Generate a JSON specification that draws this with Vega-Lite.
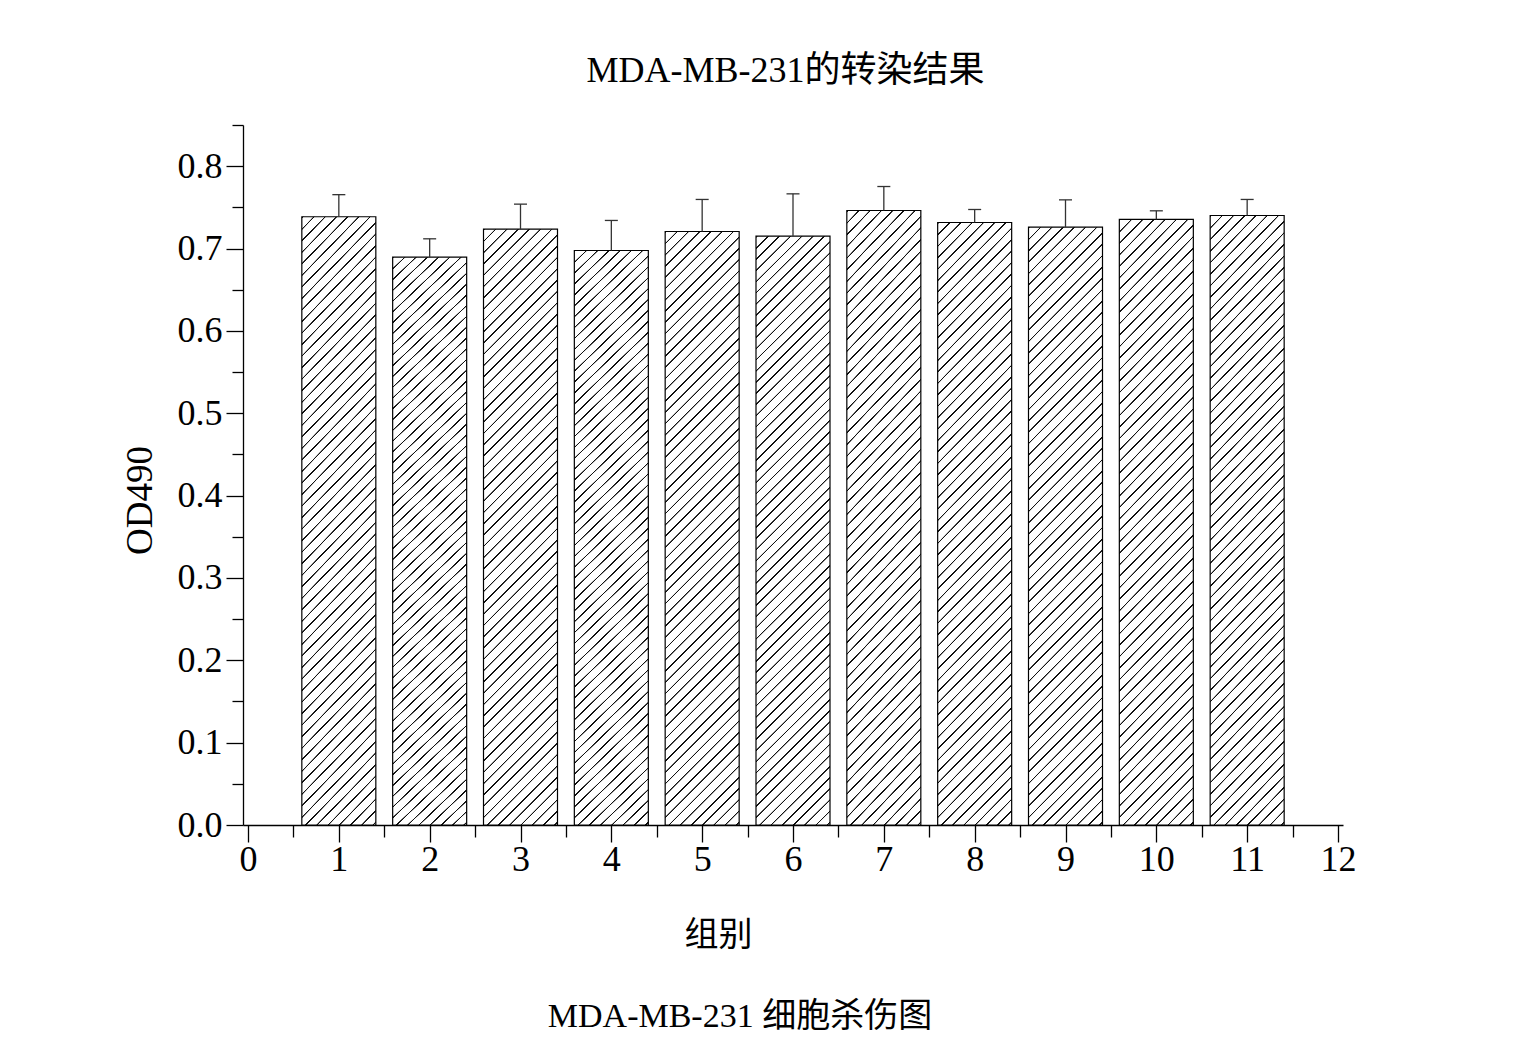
{
 "$schema": "https://vega.github.io/schema/vega-lite/v6.json",
 "background": "white",
 "padding": {"left": 121, "top": 53, "right": 10, "bottom": 10},
 "config": {"view": {"stroke": null}, "font": "Liberation Serif", "concat": {"spacing": 0}},
 "title": {"text": "MDA-MB-231的转染结果", "fontSize": 36, "font": "Liberation Serif, Noto Sans CJK SC", "fontWeight": "normal", "anchor": "middle", "offset": 17, "dx": 47, "color": "#000"},
 "data": {"values": [
  {"group": 1, "od": 0.7386, "upper": 0.7654},
  {"group": 2, "od": 0.6895, "upper": 0.7118},
  {"group": 3, "od": 0.7235, "upper": 0.7539},
  {"group": 4, "od": 0.6976, "upper": 0.7341},
  {"group": 5, "od": 0.7207, "upper": 0.7596},
  {"group": 6, "od": 0.7150, "upper": 0.7664},
  {"group": 7, "od": 0.7462, "upper": 0.7753},
  {"group": 8, "od": 0.7316, "upper": 0.7474},
  {"group": 9, "od": 0.7259, "upper": 0.7591},
  {"group": 10, "od": 0.7353, "upper": 0.7458},
  {"group": 11, "od": 0.7401, "upper": 0.7596}
 ]},
 "vconcat": [{
  "width": 1100,
  "height": 700,
  "title": {"text": "MDA-MB-231 细胞杀伤图", "orient": "bottom", "fontSize": 34, "font": "Liberation Serif, Noto Sans CJK SC", "fontWeight": "normal", "anchor": "middle", "offset": 48, "dx": -53, "color": "#000"},
  "encoding": {
   "x": {"field": "group", "type": "quantitative", "scale": {"domain": [0, 12], "nice": false, "zero": false},
    "axis": {"values": [0,0.5,1,1.5,2,2.5,3,3.5,4,4.5,5,5.5,6,6.5,7,7.5,8,8.5,9,9.5,10,10.5,11,11.5,12],
     "labelExpr": "datum.value % 1 === 0 ? format(datum.value, 'd') : ''",
     "tickSize": {"condition": {"test": "datum.value % 1 === 0", "value": 17}, "value": 12},
     "labelFontSize": 36, "labelFont": "Liberation Serif", "labelColor": "#000", "labelPadding": 0,
     "labelFlush": false, "labelOverlap": false, "labelBound": false,
     "domainColor": "#000", "tickColor": "#000", "domainWidth": 1.3, "tickWidth": 1.3, "grid": false,
     "title": "组别", "titleFontSize": 34, "titleFont": "Liberation Serif, Noto Sans CJK SC", "titleFontWeight": "normal",
     "titleX": 475, "titleY": 110, "titleBaseline": "middle", "titleAlign": "center", "titleColor": "#000"}},
   "y": {"field": "od", "type": "quantitative", "scale": {"domain": [0, 0.85], "nice": false, "zero": true},
      "axis": {"values": [0,0.05,0.1,0.15,0.2,0.25,0.3,0.35,0.4,0.45,0.5,0.55,0.6,0.65,0.7,0.75,0.8,0.85],
       "labelExpr": "abs(datum.value*10 - round(datum.value*10)) < 0.001 ? format(datum.value, '.1f') : ''",
       "tickSize": {"condition": {"test": "abs(datum.value*10 - round(datum.value*10)) < 0.001", "value": 17}, "value": 11},
       "labelFontSize": 36, "labelFont": "Liberation Serif", "labelColor": "#000", "labelPadding": 4,
       "labelFlush": false, "labelOverlap": false, "labelBound": false,
       "domainColor": "#000", "tickColor": "#000", "domainWidth": 1.3, "tickWidth": 1.3, "grid": false,
       "title": "OD490", "titleFontSize": 37, "titleFont": "Liberation Serif", "titleFontWeight": "normal",
       "titleX": -103, "titleY": 375, "titleBaseline": "middle", "titleAlign": "center", "titleAngle": -90, "titleColor": "#000"}}
  },
  "layer": [
   {
    "mark": {"type": "bar", "size": 74, "stroke": "#000", "strokeWidth": 1.2,
     "fill": {"gradient": "linear", "x1": 0, "y1": 0, "x2": 0.14, "y2": 1.12, "stops": [
      {"offset":0,"color":"#fff"},{"offset":0.0006,"color":"#111"},{"offset":0.0024,"color":"#111"},{"offset":0.003,"color":"#fff"},
      {"offset":0.0167,"color":"#fff"},{"offset":0.0173,"color":"#111"},{"offset":0.0191,"color":"#111"},{"offset":0.0197,"color":"#fff"},
      {"offset":0.0333,"color":"#fff"},{"offset":0.0339,"color":"#111"},{"offset":0.0357,"color":"#111"},{"offset":0.0363,"color":"#fff"},
      {"offset":0.05,"color":"#fff"},{"offset":0.0506,"color":"#111"},{"offset":0.0524,"color":"#111"},{"offset":0.053,"color":"#fff"},
      {"offset":0.0667,"color":"#fff"},{"offset":0.0673,"color":"#111"},{"offset":0.0691,"color":"#111"},{"offset":0.0697,"color":"#fff"},
      {"offset":0.0833,"color":"#fff"},{"offset":0.0839,"color":"#111"},{"offset":0.0857,"color":"#111"},{"offset":0.0863,"color":"#fff"},
      {"offset":0.1,"color":"#fff"},{"offset":0.1006,"color":"#111"},{"offset":0.1024,"color":"#111"},{"offset":0.103,"color":"#fff"},
      {"offset":0.1167,"color":"#fff"},{"offset":0.1173,"color":"#111"},{"offset":0.1191,"color":"#111"},{"offset":0.1197,"color":"#fff"},
      {"offset":0.1333,"color":"#fff"},{"offset":0.1339,"color":"#111"},{"offset":0.1357,"color":"#111"},{"offset":0.1363,"color":"#fff"},
      {"offset":0.15,"color":"#fff"},{"offset":0.1506,"color":"#111"},{"offset":0.1524,"color":"#111"},{"offset":0.153,"color":"#fff"},
      {"offset":0.1667,"color":"#fff"},{"offset":0.1673,"color":"#111"},{"offset":0.1691,"color":"#111"},{"offset":0.1697,"color":"#fff"},
      {"offset":0.1833,"color":"#fff"},{"offset":0.1839,"color":"#111"},{"offset":0.1857,"color":"#111"},{"offset":0.1863,"color":"#fff"},
      {"offset":0.2,"color":"#fff"},{"offset":0.2006,"color":"#111"},{"offset":0.2024,"color":"#111"},{"offset":0.203,"color":"#fff"},
      {"offset":0.2167,"color":"#fff"},{"offset":0.2173,"color":"#111"},{"offset":0.2191,"color":"#111"},{"offset":0.2197,"color":"#fff"},
      {"offset":0.2333,"color":"#fff"},{"offset":0.2339,"color":"#111"},{"offset":0.2357,"color":"#111"},{"offset":0.2363,"color":"#fff"},
      {"offset":0.25,"color":"#fff"},{"offset":0.2506,"color":"#111"},{"offset":0.2524,"color":"#111"},{"offset":0.253,"color":"#fff"},
      {"offset":0.2667,"color":"#fff"},{"offset":0.2673,"color":"#111"},{"offset":0.2691,"color":"#111"},{"offset":0.2697,"color":"#fff"},
      {"offset":0.2833,"color":"#fff"},{"offset":0.2839,"color":"#111"},{"offset":0.2857,"color":"#111"},{"offset":0.2863,"color":"#fff"},
      {"offset":0.3,"color":"#fff"},{"offset":0.3006,"color":"#111"},{"offset":0.3024,"color":"#111"},{"offset":0.303,"color":"#fff"},
      {"offset":0.3167,"color":"#fff"},{"offset":0.3173,"color":"#111"},{"offset":0.3191,"color":"#111"},{"offset":0.3197,"color":"#fff"},
      {"offset":0.3333,"color":"#fff"},{"offset":0.3339,"color":"#111"},{"offset":0.3357,"color":"#111"},{"offset":0.3363,"color":"#fff"},
      {"offset":0.35,"color":"#fff"},{"offset":0.3506,"color":"#111"},{"offset":0.3524,"color":"#111"},{"offset":0.353,"color":"#fff"},
      {"offset":0.3667,"color":"#fff"},{"offset":0.3673,"color":"#111"},{"offset":0.3691,"color":"#111"},{"offset":0.3697,"color":"#fff"},
      {"offset":0.3833,"color":"#fff"},{"offset":0.3839,"color":"#111"},{"offset":0.3857,"color":"#111"},{"offset":0.3863,"color":"#fff"},
      {"offset":0.4,"color":"#fff"},{"offset":0.4006,"color":"#111"},{"offset":0.4024,"color":"#111"},{"offset":0.403,"color":"#fff"},
      {"offset":0.4167,"color":"#fff"},{"offset":0.4173,"color":"#111"},{"offset":0.4191,"color":"#111"},{"offset":0.4197,"color":"#fff"},
      {"offset":0.4333,"color":"#fff"},{"offset":0.4339,"color":"#111"},{"offset":0.4357,"color":"#111"},{"offset":0.4363,"color":"#fff"},
      {"offset":0.45,"color":"#fff"},{"offset":0.4506,"color":"#111"},{"offset":0.4524,"color":"#111"},{"offset":0.453,"color":"#fff"},
      {"offset":0.4667,"color":"#fff"},{"offset":0.4673,"color":"#111"},{"offset":0.4691,"color":"#111"},{"offset":0.4697,"color":"#fff"},
      {"offset":0.4833,"color":"#fff"},{"offset":0.4839,"color":"#111"},{"offset":0.4857,"color":"#111"},{"offset":0.4863,"color":"#fff"},
      {"offset":0.5,"color":"#fff"},{"offset":0.5006,"color":"#111"},{"offset":0.5024,"color":"#111"},{"offset":0.503,"color":"#fff"},
      {"offset":0.5167,"color":"#fff"},{"offset":0.5173,"color":"#111"},{"offset":0.5191,"color":"#111"},{"offset":0.5197,"color":"#fff"},
      {"offset":0.5333,"color":"#fff"},{"offset":0.5339,"color":"#111"},{"offset":0.5357,"color":"#111"},{"offset":0.5363,"color":"#fff"},
      {"offset":0.55,"color":"#fff"},{"offset":0.5506,"color":"#111"},{"offset":0.5524,"color":"#111"},{"offset":0.553,"color":"#fff"},
      {"offset":0.5667,"color":"#fff"},{"offset":0.5673,"color":"#111"},{"offset":0.5691,"color":"#111"},{"offset":0.5697,"color":"#fff"},
      {"offset":0.5833,"color":"#fff"},{"offset":0.5839,"color":"#111"},{"offset":0.5857,"color":"#111"},{"offset":0.5863,"color":"#fff"},
      {"offset":0.6,"color":"#fff"},{"offset":0.6006,"color":"#111"},{"offset":0.6024,"color":"#111"},{"offset":0.603,"color":"#fff"},
      {"offset":0.6167,"color":"#fff"},{"offset":0.6173,"color":"#111"},{"offset":0.6191,"color":"#111"},{"offset":0.6197,"color":"#fff"},
      {"offset":0.6333,"color":"#fff"},{"offset":0.6339,"color":"#111"},{"offset":0.6357,"color":"#111"},{"offset":0.6363,"color":"#fff"},
      {"offset":0.65,"color":"#fff"},{"offset":0.6506,"color":"#111"},{"offset":0.6524,"color":"#111"},{"offset":0.653,"color":"#fff"},
      {"offset":0.6667,"color":"#fff"},{"offset":0.6673,"color":"#111"},{"offset":0.6691,"color":"#111"},{"offset":0.6697,"color":"#fff"},
      {"offset":0.6833,"color":"#fff"},{"offset":0.6839,"color":"#111"},{"offset":0.6857,"color":"#111"},{"offset":0.6863,"color":"#fff"},
      {"offset":0.7,"color":"#fff"},{"offset":0.7006,"color":"#111"},{"offset":0.7024,"color":"#111"},{"offset":0.703,"color":"#fff"},
      {"offset":0.7167,"color":"#fff"},{"offset":0.7173,"color":"#111"},{"offset":0.7191,"color":"#111"},{"offset":0.7197,"color":"#fff"},
      {"offset":0.7333,"color":"#fff"},{"offset":0.7339,"color":"#111"},{"offset":0.7357,"color":"#111"},{"offset":0.7363,"color":"#fff"},
      {"offset":0.75,"color":"#fff"},{"offset":0.7506,"color":"#111"},{"offset":0.7524,"color":"#111"},{"offset":0.753,"color":"#fff"},
      {"offset":0.7667,"color":"#fff"},{"offset":0.7673,"color":"#111"},{"offset":0.7691,"color":"#111"},{"offset":0.7697,"color":"#fff"},
      {"offset":0.7833,"color":"#fff"},{"offset":0.7839,"color":"#111"},{"offset":0.7857,"color":"#111"},{"offset":0.7863,"color":"#fff"},
      {"offset":0.8,"color":"#fff"},{"offset":0.8006,"color":"#111"},{"offset":0.8024,"color":"#111"},{"offset":0.803,"color":"#fff"},
      {"offset":0.8167,"color":"#fff"},{"offset":0.8173,"color":"#111"},{"offset":0.8191,"color":"#111"},{"offset":0.8197,"color":"#fff"},
      {"offset":0.8333,"color":"#fff"},{"offset":0.8339,"color":"#111"},{"offset":0.8357,"color":"#111"},{"offset":0.8363,"color":"#fff"},
      {"offset":0.85,"color":"#fff"},{"offset":0.8506,"color":"#111"},{"offset":0.8524,"color":"#111"},{"offset":0.853,"color":"#fff"},
      {"offset":0.8667,"color":"#fff"},{"offset":0.8673,"color":"#111"},{"offset":0.8691,"color":"#111"},{"offset":0.8697,"color":"#fff"},
      {"offset":0.8833,"color":"#fff"},{"offset":0.8839,"color":"#111"},{"offset":0.8857,"color":"#111"},{"offset":0.8863,"color":"#fff"},
      {"offset":0.9,"color":"#fff"},{"offset":0.9006,"color":"#111"},{"offset":0.9024,"color":"#111"},{"offset":0.903,"color":"#fff"},
      {"offset":0.9167,"color":"#fff"},{"offset":0.9173,"color":"#111"},{"offset":0.9191,"color":"#111"},{"offset":0.9197,"color":"#fff"},
      {"offset":0.9333,"color":"#fff"},{"offset":0.9339,"color":"#111"},{"offset":0.9357,"color":"#111"},{"offset":0.9363,"color":"#fff"},
      {"offset":0.95,"color":"#fff"},{"offset":0.9506,"color":"#111"},{"offset":0.9524,"color":"#111"},{"offset":0.953,"color":"#fff"},
      {"offset":0.9667,"color":"#fff"},{"offset":0.9673,"color":"#111"},{"offset":0.9691,"color":"#111"},{"offset":0.9697,"color":"#fff"},
      {"offset":0.9833,"color":"#fff"},{"offset":0.9839,"color":"#111"},{"offset":0.9857,"color":"#111"},{"offset":0.9863,"color":"#fff"},
      {"offset":1,"color":"#fff"}
     ]}}
   },
   {
    "mark": {"type": "rule", "color": "#333", "strokeWidth": 1.3},
    "encoding": {
     "y2": {"field": "upper"}
    }
   },
   {
    "mark": {"type": "tick", "orient": "horizontal", "size": 13, "thickness": 1.3, "color": "#333", "opacity": 1},
    "encoding": {
     "y": {"field": "upper", "type": "quantitative"}
    }
   }
  ]
 }]
}
